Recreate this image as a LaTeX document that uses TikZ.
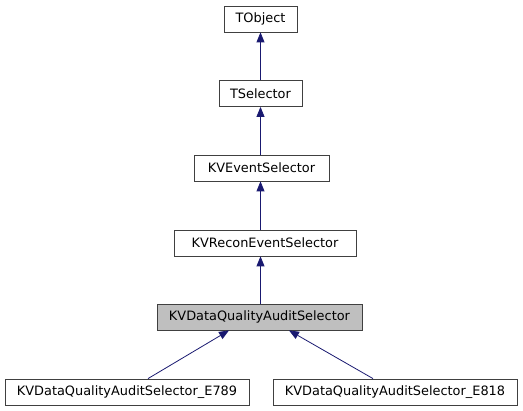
\documentclass[tikz,border=0pt]{standalone}
\usepackage{fontspec}
\setmainfont{DejaVu Sans}
\usetikzlibrary{arrows.meta}
\definecolor{edgeblue}{HTML}{191970}
\definecolor{boxgrey}{HTML}{BFBFBF}
\definecolor{boxline}{HTML}{404040}
\begin{document}
\begin{tikzpicture}[x=1pt,y=-1pt,
  cls/.style={draw=boxline,fill=white,line width=0.8pt,minimum height=26pt,inner xsep=3pt,inner ysep=0pt,font=\fontsize{12.9}{14}\selectfont,anchor=center},
  cur/.style={cls,fill=boxgrey},
  inh/.style={draw=edgeblue,line width=0.8pt,-{Triangle[open=false,length=10pt,width=8pt,fill=edgeblue]}}]
\useasboundingbox (0,0) rectangle (523,411);
\node[cls,minimum width=73pt] (tobj) at (260.5,19) {TObject};
\node[cls,minimum width=83pt] (tsel) at (260.5,93.5) {TSelector};
\node[cls,minimum width=135pt] (kves) at (261.5,168) {KVEventSelector};
\node[cls,minimum width=182pt] (kvres) at (265,243) {KVReconEventSelector};
\node[cur,minimum width=205pt] (kvdq) at (259.5,317) {KVDataQualityAuditSelector};
\node[cls,minimum width=244pt] (e789) at (127,392) {KVDataQualityAuditSelector\_E789};
\node[cls,minimum width=244pt] (e818) at (395,392) {KVDataQualityAuditSelector\_E818};
\draw[inh] (tsel.north -| 260.5,0) -- (tobj.south -| 260.5,0);
\draw[inh] (kves.north -| 260.5,0) -- (tsel.south -| 260.5,0);
\draw[inh] (kvres.north -| 260.5,0) -- (kves.south -| 260.5,0);
\draw[inh] (kvdq.north -| 260.5,0) -- (kvres.south -| 260.5,0);
\draw[inh] (e789.north -| 148,0) -- (kvdq.south -| 229,0);
\draw[inh] (e818.north -| 373,0) -- (kvdq.south -| 289,0);
\end{tikzpicture}
\end{document}
